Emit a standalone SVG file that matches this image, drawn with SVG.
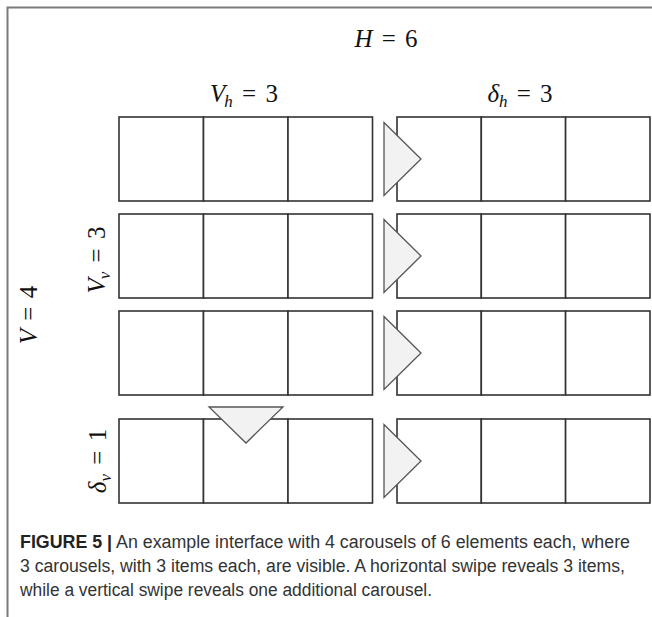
<svg xmlns="http://www.w3.org/2000/svg" width="652" height="617" viewBox="0 0 652 617">
<style>
.cell{fill:#fff;stroke:#333;stroke-width:1.6}
.tri{fill:#f2f2f2;stroke:#555;stroke-width:1.3;stroke-linejoin:miter}
.frame{fill:none;stroke:#7a7a7a;stroke-width:2}
.math{font-family:"Liberation Serif","DejaVu Serif",serif;font-size:25px;fill:#111}
.it{font-style:italic}
.sub{font-size:17px;font-style:italic}
.cap{font-family:"Liberation Sans",Arial,sans-serif;font-size:18px;fill:#333}
.capb{font-weight:bold;fill:#222}
</style>
<rect width="652" height="617" fill="#fff"/>
<path class="frame" d="M7.5,617 V7.5 H652"/>

<g id="labels">
<text class="math" x="386" y="47" text-anchor="middle"><tspan class="it">H</tspan><tspan dx="3"> = </tspan><tspan dx="3">6</tspan></text>
<text class="math" x="244" y="102" text-anchor="middle"><tspan class="it">V</tspan><tspan class="sub" dx="-1" dy="5">h</tspan><tspan dx="3" dy="-5"> = </tspan><tspan dx="3">3</tspan></text>
<text class="math" x="520" y="102" text-anchor="middle"><tspan class="it">δ</tspan><tspan class="sub" dy="5">h</tspan><tspan dx="3" dy="-5"> = </tspan><tspan dx="3">3</tspan></text>
<text class="math" transform="translate(37,315) rotate(-90)" text-anchor="middle"><tspan class="it">V</tspan><tspan dx="2"> = </tspan><tspan dx="2">4</tspan></text>
<text class="math" transform="translate(105,260) rotate(-90)" text-anchor="middle"><tspan class="it">V</tspan><tspan class="sub" dx="-1" dy="5">v</tspan><tspan dx="3" dy="-5"> = </tspan><tspan dx="3">3</tspan></text>
<text class="math" transform="translate(106,461) rotate(-90)" text-anchor="middle"><tspan class="it">δ</tspan><tspan class="sub" dy="5">v</tspan><tspan dx="3" dy="-5"> = </tspan><tspan dx="3">1</tspan></text>
</g>

<g id="carousel1">
<rect class="cell" x="119" y="117" width="84.5" height="84"/>
<rect class="cell" x="203.5" y="117" width="84.5" height="84"/>
<rect class="cell" x="288" y="117" width="84.5" height="84"/>
<rect class="cell" x="397" y="117" width="84.3" height="84"/>
<rect class="cell" x="481.3" y="117" width="84.3" height="84"/>
<rect class="cell" x="565.6" y="117" width="84.4" height="84"/>
</g>
<g id="carousel2">
<rect class="cell" x="119" y="214" width="84.5" height="84"/>
<rect class="cell" x="203.5" y="214" width="84.5" height="84"/>
<rect class="cell" x="288" y="214" width="84.5" height="84"/>
<rect class="cell" x="397" y="214" width="84.3" height="84"/>
<rect class="cell" x="481.3" y="214" width="84.3" height="84"/>
<rect class="cell" x="565.6" y="214" width="84.4" height="84"/>
</g>
<g id="carousel3">
<rect class="cell" x="119" y="311" width="84.5" height="84"/>
<rect class="cell" x="203.5" y="311" width="84.5" height="84"/>
<rect class="cell" x="288" y="311" width="84.5" height="84"/>
<rect class="cell" x="397" y="311" width="84.3" height="84"/>
<rect class="cell" x="481.3" y="311" width="84.3" height="84"/>
<rect class="cell" x="565.6" y="311" width="84.4" height="84"/>
</g>
<g id="carousel4">
<rect class="cell" x="119" y="419" width="84.5" height="84"/>
<rect class="cell" x="203.5" y="419" width="84.5" height="84"/>
<rect class="cell" x="288" y="419" width="84.5" height="84"/>
<rect class="cell" x="397" y="419" width="84.3" height="84"/>
<rect class="cell" x="481.3" y="419" width="84.3" height="84"/>
<rect class="cell" x="565.6" y="419" width="84.4" height="84"/>
</g>

<g id="swipes">
<polygon class="tri" points="384,122.5 421,159 384,195.5"/>
<polygon class="tri" points="384,219.5 421,256 384,292.5"/>
<polygon class="tri" points="384,316.5 421,353 384,389.5"/>
<polygon class="tri" points="384,424.5 421,461 384,497.5"/>
<polygon class="tri" points="209,407 283,407 246,443"/>
</g>

<g id="caption">
<text class="cap" x="20" y="548" textLength="610" lengthAdjust="spacingAndGlyphs"><tspan class="capb">FIGURE 5 |</tspan> An example interface with 4 carousels of 6 elements each, where</text>
<text class="cap" x="20" y="572" textLength="605" lengthAdjust="spacingAndGlyphs">3 carousels, with 3 items each, are visible. A horizontal swipe reveals 3 items,</text>
<text class="cap" x="20" y="596" textLength="412" lengthAdjust="spacingAndGlyphs">while a vertical swipe reveals one additional carousel.</text>
</g>
</svg>
